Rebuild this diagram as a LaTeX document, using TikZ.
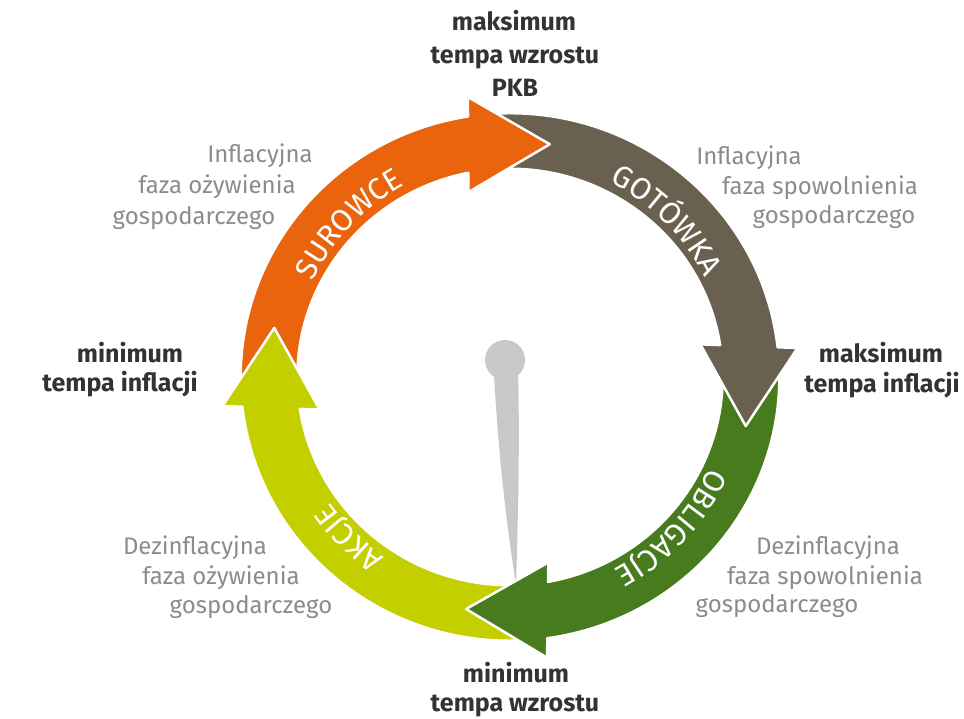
\documentclass[tikz,border=0pt]{standalone}
\usepackage{fontspec}
\setmainfont{Fira Sans}
\usetikzlibrary{decorations.text}
\definecolor{cOrange}{HTML}{E9640C}
\definecolor{cBrown}{HTML}{6A604F}
\definecolor{cGreen}{HTML}{487A1E}
\definecolor{cLime}{HTML}{C4CF00}
\definecolor{cNeedle}{HTML}{C8C8C8}
\definecolor{cDark}{HTML}{333333}
\definecolor{cGray}{HTML}{8C8C8C}
\newcommand\ringfont{\fontsize{30.5}{32}\selectfont}
% #1 colour, #2 tail angle, #3 base angle of the head
\newcommand\ringarrow[3]{%
  \pgfmathsetmacro\ra{#3-1.03}%
  \pgfmathsetmacro\rb{#3-1.63}%
  \pgfmathsetmacro\rc{#3-19.5}%
  \pgfmathsetmacro\rd{#3+2.44}%
  \pgfmathsetmacro\re{#3+1.31}%
  \filldraw[fill=#1, draw=white, line width=2.5pt, line join=round]
    (#2:1.1176) arc[start angle=#2, end angle=\ra, radius=1.1176]
    -- (\rb:1.1993) -- (\rc:1) -- (\rd:0.8019) -- (\re:0.8824)
    arc[start angle=\re, end angle=#2, radius=0.8824] -- cycle;
}
\newcommand\ringtext[2]{%
  \path[decorate, decoration={text along path, text={|\ringfont|#2}, text align=center, text color=white}]
    (510,342) ++(#1+45:219) arc[start angle=#1+45, end angle=#1-45, radius=219];
}
\begin{document}
\begin{tikzpicture}[x=1pt, y=1pt,
  boldlbl/.style={font=\fontsize{25}{28}\selectfont\bfseries, text=cDark, inner sep=0pt, anchor=base},
  graylbl/.style={font=\fontsize{24}{28}\selectfont, text=cGray, inner sep=0pt, anchor=base}]
\useasboundingbox (0,0) rectangle (964,719);
\clip (0,0) rectangle (964,719);
\fill[white] (0,0) rectangle (964,719);

% needle
\fill[cNeedle] (505,359) circle[radius=20];
\fill[cNeedle] (494,345) .. controls (499,250) and (509,180) .. (516,134)
  .. controls (518,200) and (520,280) .. (518,345) -- cycle;

% ring of arrows
\begin{scope}[shift={(510,342)}, xscale=241, yscale=236]
  \ringarrow{cLime}{274}{187.5}
  \ringarrow{cGreen}{2}{-81}
  \ringarrow{cBrown}{95}{7.5}
  \ringarrow{cOrange}{182.5}{100}
  \begin{scope}
    \clip (0,0) -- (200:1.6) arc[start angle=200, end angle=155, radius=1.6] -- cycle;
    \ringarrow{cLime}{274}{187.5}
  \end{scope}
\end{scope}

% words on the ring
\ringtext{136.5}{SUROWCE}
\ringtext{45}{GOTÓWKA}
\ringtext{-43}{OBLIGACJE}
\ringtext{-135}{AKCJE}

% turning points
\node[boldlbl] (top1) at (514,688) {maksimum};
\node[boldlbl] (top2) at (515,655) {tempa wzrostu};
\node[boldlbl] (top3) at (515,622) {PKB};
\node[boldlbl] (lft1) at (130,356) {minimum};
\node[boldlbl] (lft2) at (120,327) {tempa inflacji};
\node[boldlbl] (rgt1) at (881,356) {maksimum};
\node[boldlbl] (rgt2) at (882,326) {tempa inflacji};
\node[boldlbl] (bot1) at (516,36) {minimum};
\node[boldlbl] (bot2) at (515,7) {tempa wzrostu};

% phases
\node[graylbl] (tl1) at (260,556) {Inflacyjna};
\node[graylbl] (tl2) at (217,525) {faza ożywienia};
\node[graylbl] (tl3) at (194,494) {gospodarczego};
\node[graylbl] (tr1) at (749,554) {Inflacyjna};
\node[graylbl] (tr2) at (820,524) {faza spowolnienia};
\node[graylbl] (tr3) at (834,495) {gospodarczego};
\node[graylbl] (bl1) at (195,164) {Dezinflacyjna};
\node[graylbl] (bl2) at (221,134) {faza ożywienia};
\node[graylbl] (bl3) at (251,105) {gospodarczego};
\node[graylbl] (br1) at (828,164) {Dezinflacyjna};
\node[graylbl] (br2) at (825,134) {faza spowolnienia};
\node[graylbl] (br3) at (777,106) {gospodarczego};
\end{tikzpicture}
\end{document}
